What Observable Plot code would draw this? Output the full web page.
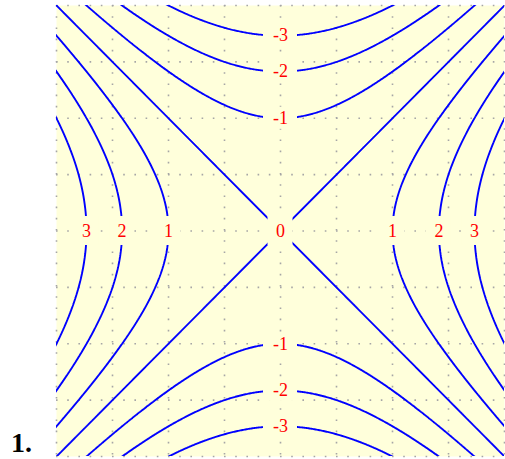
<!DOCTYPE html>
<html>
<head>
<meta charset="utf-8">
<script src="https://cdn.jsdelivr.net/npm/d3@7"></script>
<script src="https://cdn.jsdelivr.net/npm/@observablehq/plot@0.6"></script>
<style>
  html, body { margin: 0; padding: 0; background: #ffffff; }
  #chart { position: relative; width: 505px; height: 459px; }
  #chart svg { position: absolute; left: 0; top: 0; }
  #num {
    position: absolute; left: 11px; top: 431px;
    font: bold 28px/24px "Liberation Serif", serif; color: #000;
  }
</style>
</head>
<body>
<div id="chart"><div id="num">1.</div></div>
<script>
// Level curves of f(x, y) = x² − y² on the square [-2, 2] × [-2, 2]
const levels = [-3, -2, -1, 0, 1, 2, 3];
const gridTicks = [-2, -1.5, -1, -0.5, 0, 0.5, 1, 1.5, 2];
const xDomain = [-2, 2];
const yDomain = [-2, 2];
const f = (x, y) => x * x - y * y;

const bg = "#ffffdb";

// Each level label sits where its curve crosses an axis
const labels = levels.flatMap((L) => {
  if (L > 0) return [-1, 1].map((s) => ({x: s * Math.sqrt(L), y: 0, text: String(L)}));
  if (L < 0) return [-1, 1].map((s) => ({x: 0, y: s * Math.sqrt(-L), text: String(L)}));
  return [{x: 0, y: 0, text: String(L)}];
});
const wideLabels = labels.filter((d) => d.text.length > 1);
const narrowLabels = labels.filter((d) => d.text.length === 1);

const chart = Plot.plot({
  width: 505,
  height: 459,
  marginLeft: 56,
  marginRight: 1,
  marginTop: 5,
  marginBottom: 3,
  x: {domain: xDomain, axis: null},
  y: {domain: yDomain, axis: null},
  style: {background: "transparent"},
  marks: [
    Plot.frame({fill: bg, stroke: null}),
    Plot.ruleX(gridTicks, {stroke: "#a6a6a6", strokeWidth: 1.6, strokeDasharray: "1.6 9.6"}),
    Plot.ruleY(gridTicks, {stroke: "#a6a6a6", strokeWidth: 1.6, strokeDasharray: "1.6 9.6"}),
    Plot.contour({
      value: f,
      x1: -2.3, x2: 2.3, y1: -2.3, y2: 2.3,
      thresholds: levels,
      pixelSize: 1,
      fill: "none",
      stroke: "#0000ff",
      strokeWidth: 1.9,
      clip: true
    }),
    Plot.rect(wideLabels, {
      x1: "x", x2: "x", y1: "y", y2: "y", fill: bg,
      insetLeft: -17, insetRight: -17, insetTop: -11, insetBottom: -11
    }),
    Plot.rect(narrowLabels, {
      x1: "x", x2: "x", y1: "y", y2: "y", fill: bg,
      insetLeft: -12.5, insetRight: -12.5, insetTop: -14.5, insetBottom: -14.5
    }),
    Plot.text(labels, {
      x: "x", y: "y", text: "text",
      fill: "#ff0000", fontSize: 18, fontFamily: "Liberation Serif"
    })
  ]
});

document.getElementById("chart").appendChild(chart);
</script>
</body>
</html>
